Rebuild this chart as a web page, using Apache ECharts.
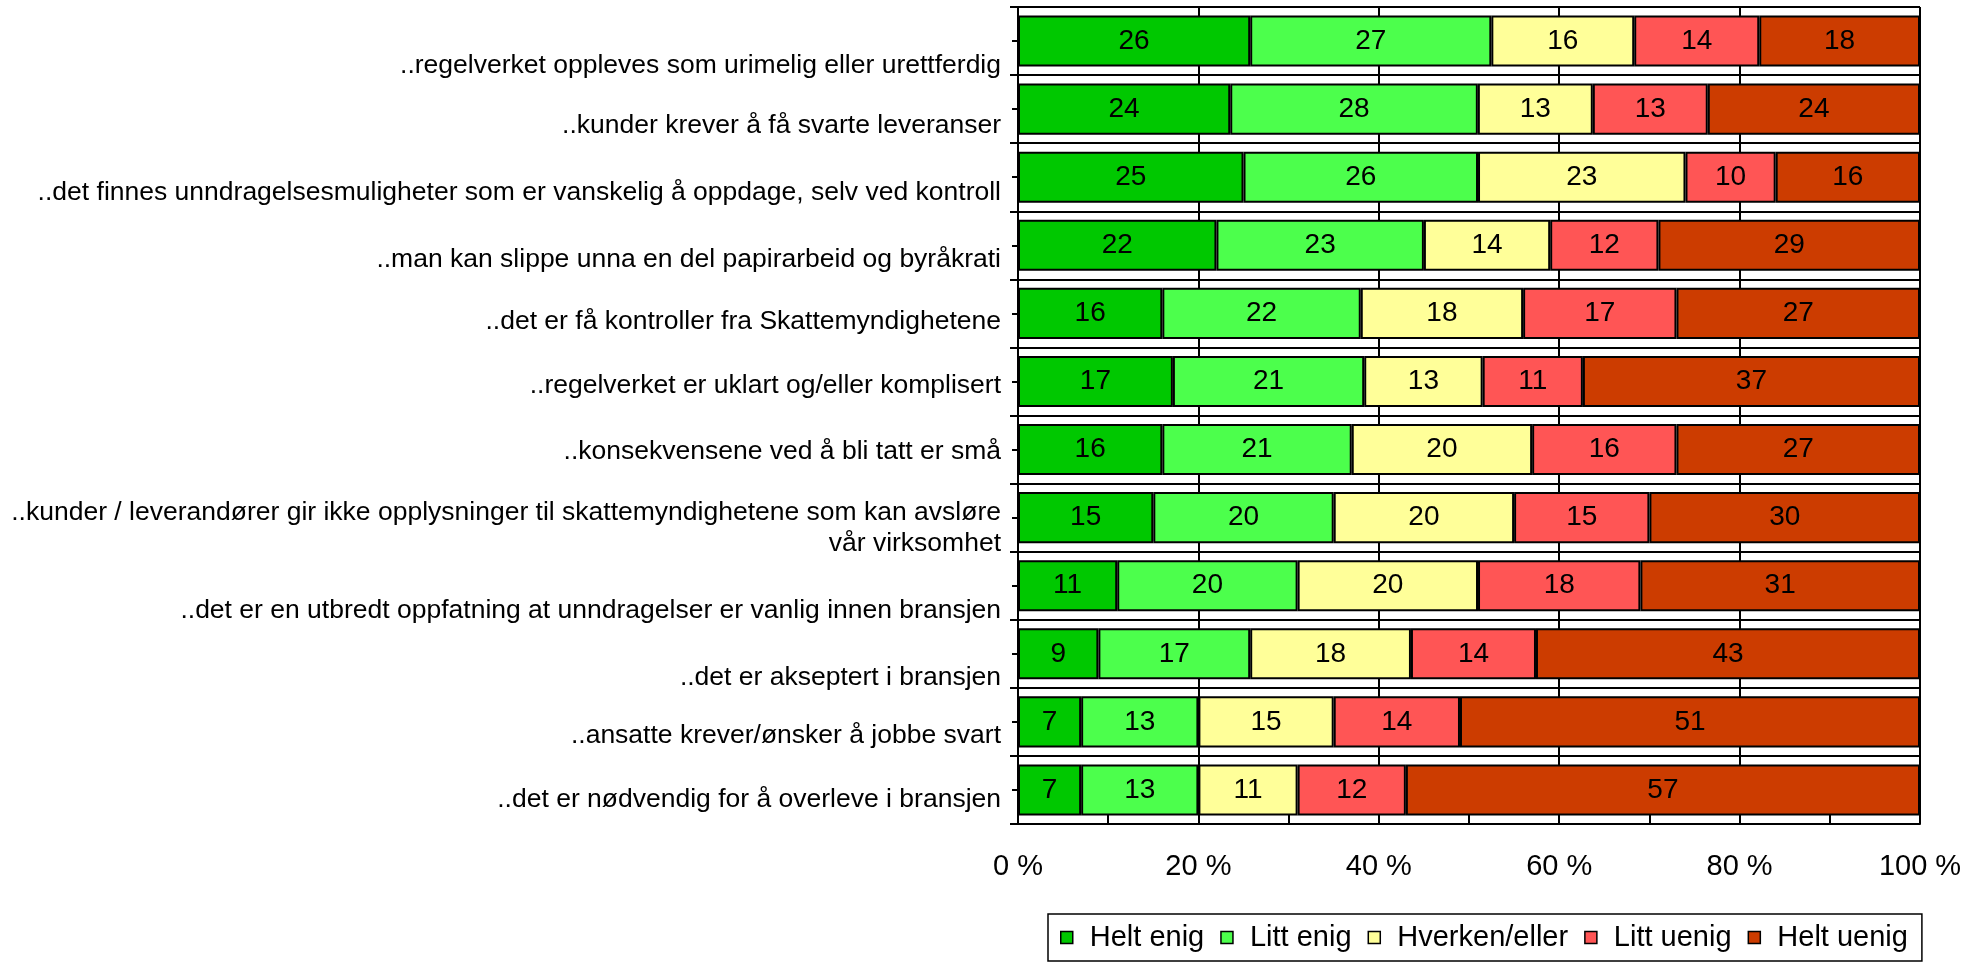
<!DOCTYPE html>
<html>
<head>
<meta charset="utf-8">
<script src="https://cdn.jsdelivr.net/npm/echarts@6/dist/echarts.min.js"></script>
<style>html,body{margin:0;padding:0;background:#fff;}#c{width:1969px;height:966px;}</style>
</head>
<body>
<div id="c"></div>
<script>
const categories = [
  '..regelverket oppleves som urimelig eller urettferdig',
  '..kunder krever å få svarte leveranser',
  '..det finnes unndragelsesmuligheter som er vanskelig å oppdage, selv ved kontroll',
  '..man kan slippe unna en del papirarbeid og byråkrati',
  '..det er få kontroller fra Skattemyndighetene',
  '..regelverket er uklart og/eller komplisert',
  '..konsekvensene ved å bli tatt er små',
  '..kunder / leverandører gir ikke opplysninger til skattemyndighetene som kan avsløre\nvår virksomhet',
  '..det er en utbredt oppfatning at unndragelser er vanlig innen bransjen',
  '..det er akseptert i bransjen',
  '..ansatte krever/ønsker å jobbe svart',
  '..det er nødvendig for å overleve i bransjen'
];
const seriesNames = ['Helt enig', 'Litt enig', 'Hverken/eller', 'Litt uenig', 'Helt uenig'];
const heltEnig  = [26, 24, 25, 22, 16, 17, 16, 15, 11,  9,  7,  7];
const littEnig  = [27, 28, 26, 23, 22, 21, 21, 20, 20, 17, 13, 13];
const hverken   = [16, 13, 23, 14, 18, 13, 20, 20, 20, 18, 15, 11];
const littUenig = [14, 13, 10, 12, 17, 11, 16, 15, 18, 14, 14, 12];
const heltUenig = [18, 24, 16, 29, 27, 37, 27, 30, 31, 43, 51, 57];
const xTickValues = [0, 20, 40, 60, 80, 100];

// styling (not data)
const colors = ['#00C800', '#4CFF4C', '#FFFF99', '#FF5555', '#CC3C00'];
const labelShift = [25, 17, 15, 14, 8, 4, 2.5, 11, 25, 24, 14, 10];
const FONT = 'Liberation Sans, Arial, sans-serif';

const raw = [heltEnig, littEnig, hverken, littUenig, heltUenig];
const totals = categories.map((_, i) => raw.reduce((s, arr) => s + arr[i], 0));

const rich = {};
labelShift.forEach((s, i) => {
  rich['p' + i] = { padding: [2 * s, 0, 0, 0], fontSize: 26.5, fontFamily: FONT, color: '#000', align: 'right' };
});
rich.n = { fontSize: 26.5, fontFamily: FONT, color: '#000', align: 'right', padding: [4, 0, 0, 0] };

const series = seriesNames.map((name, k) => ({
  name: name,
  type: 'bar',
  stack: 'total',
  barCategoryGap: '25%',
  yAxisIndex: 0,
  itemStyle: { color: colors[k], borderColor: '#000', borderWidth: 2 },
  label: {
    show: true,
    position: 'inside',
    color: '#000',
    fontSize: 28,
    fontFamily: FONT,
    formatter: p => String(raw[k][p.dataIndex])
  },
  emphasis: { disabled: true },
  data: raw[k].map((v, i) => v / totals[i] * 100)
}));

const chart = echarts.init(document.getElementById('c'), null, { renderer: 'canvas' });
chart.setOption({
  animation: false,
  backgroundColor: '#fff',
  textStyle: { fontFamily: FONT },
  grid: { left: 1018, right: 49, top: 7, bottom: 142, containLabel: false },
  legend: {
    left: 1048, top: 914,
    orient: 'horizontal',
    padding: [9, 14, 9, 12],
    itemGap: 16,
    itemWidth: 12, itemHeight: 12,
    borderColor: '#000', borderWidth: 1.5,
    icon: 'rect',
    itemStyle: { borderColor: '#000', borderWidth: 1.5 },
    textStyle: { fontSize: 29, color: '#000', fontFamily: FONT, padding: [0, 0, 0, 12] },
    data: seriesNames
  },
  xAxis: {
    type: 'value',
    min: 0, max: 100, interval: 20,
    axisLine: { show: true, lineStyle: { color: '#000', width: 2 } },
    axisTick: { show: true, inside: true, length: 9, lineStyle: { color: '#000', width: 2 } },
    minorTick: { show: true, splitNumber: 2, length: 9, lineStyle: { color: '#000', width: 2 } },
    splitLine: { show: true, lineStyle: { color: '#000', width: 2 } },
    axisLabel: {
      margin: 28, fontSize: 29, color: '#000', fontFamily: FONT,
      customValues: xTickValues,
      formatter: v => v + ' %'
    }
  },
  yAxis: [{
    type: 'category',
    inverse: true,
    data: categories,
    axisLine: { show: true, lineStyle: { color: '#000', width: 2 } },
    axisTick: { show: true, length: 8, lineStyle: { color: '#000', width: 2 } },
    splitLine: { show: true, lineStyle: { color: '#000', width: 2 } },
    axisLabel: {
      margin: 17,
      interval: 0,
      color: '#000',
      fontSize: 26.5,
      fontFamily: FONT,
      formatter: (v, i) => {
        const lines = v.split('\n');
        if (lines.length > 1) {
          return '{p' + i + '|' + lines[0] + '}\n{n|' + lines.slice(1).join('\n') + '}';
        }
        return '{p' + i + '|' + v + '}';
      },
      rich: rich
    }
  }, {
    type: 'category',
    inverse: true,
    position: 'left',
    data: categories,
    axisLine: { show: false },
    axisTick: { show: true, alignWithLabel: true, length: 6, lineStyle: { color: '#000', width: 2 } },
    splitLine: { show: false },
    axisLabel: { show: false }
  }],
  series: series
});
</script>
</body>
</html>
